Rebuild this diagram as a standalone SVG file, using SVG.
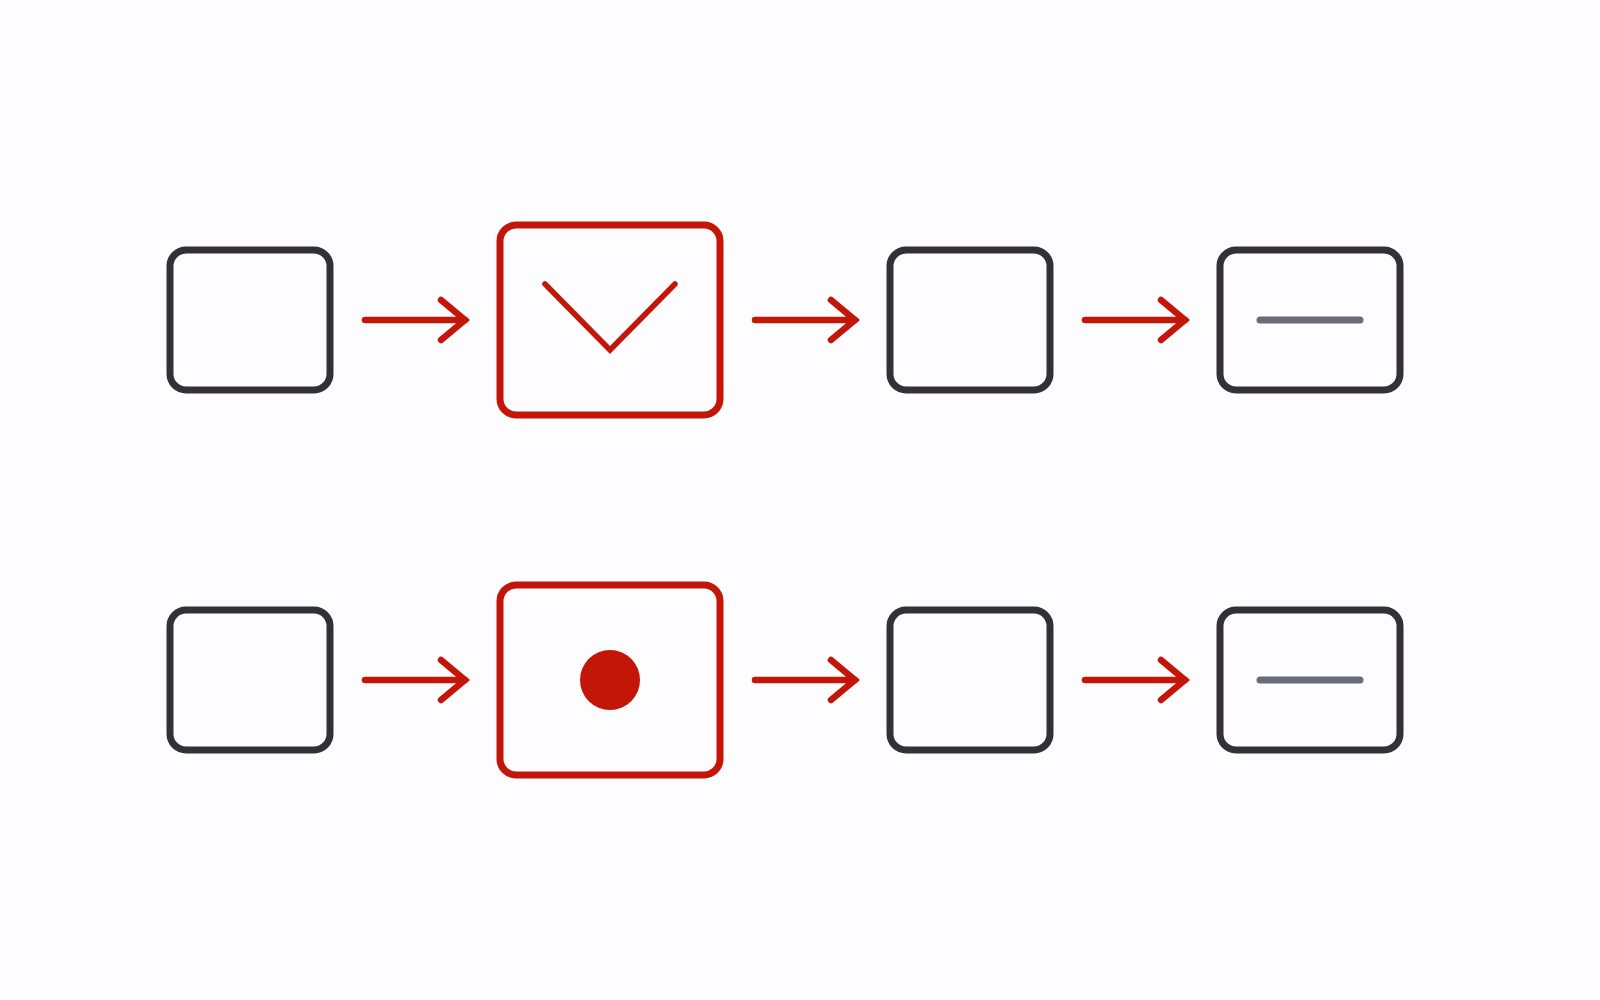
<svg xmlns="http://www.w3.org/2000/svg" width="1600" height="1000" viewBox="0 0 1600 1000">
  <defs>
    <style>
      .box { fill: none; stroke: #333036; stroke-width: 7; }
      .hot { fill: none; stroke: #c41608; stroke-width: 7; }
      .conn { fill: none; stroke: #c41608; stroke-width: 6.5; stroke-linecap: round; }
      .dash { fill: none; stroke: #6b6b75; stroke-width: 7; stroke-linecap: round; }
      .chev { fill: none; stroke: #c41608; stroke-width: 5.5; stroke-linecap: round; stroke-linejoin: miter; }
    </style>
    <marker id="arrow" markerUnits="userSpaceOnUse" markerWidth="40" markerHeight="50" refX="0" refY="0" orient="auto" overflow="visible">
      <path d="M-24,-20 L0,0 L-24,20" fill="none" stroke="#c41608" stroke-width="6.5" stroke-linecap="round" stroke-linejoin="miter"/>
    </marker>
  </defs>
  <rect x="0" y="0" width="1600" height="1000" fill="#fdfcfe"/>

  <g id="connectors">
    <line class="conn" x1="365" y1="320" x2="465" y2="320" marker-end="url(#arrow)"/>
    <line class="conn" x1="755" y1="320" x2="855" y2="320" marker-end="url(#arrow)"/>
    <line class="conn" x1="1085" y1="320" x2="1185" y2="320" marker-end="url(#arrow)"/>
    <line class="conn" x1="365" y1="680" x2="465" y2="680" marker-end="url(#arrow)"/>
    <line class="conn" x1="755" y1="680" x2="855" y2="680" marker-end="url(#arrow)"/>
    <line class="conn" x1="1085" y1="680" x2="1185" y2="680" marker-end="url(#arrow)"/>
  </g>

  <g id="r1-n1"><rect class="box" x="170" y="250" width="160" height="140" rx="16"/></g>
  <g id="r1-n2">
    <rect class="hot" x="500" y="225" width="220" height="190" rx="16"/>
    <polyline class="chev" points="545,284 610,350 675,284"/>
  </g>
  <g id="r1-n3"><rect class="box" x="890" y="250" width="160" height="140" rx="16"/></g>
  <g id="r1-n4">
    <rect class="box" x="1220" y="250" width="180" height="140" rx="16"/>
    <line class="dash" x1="1260" y1="320" x2="1360" y2="320"/>
  </g>

  <g id="r2-n1"><rect class="box" x="170" y="610" width="160" height="140" rx="16"/></g>
  <g id="r2-n2">
    <rect class="hot" x="500" y="585" width="220" height="190" rx="16"/>
    <circle cx="610" cy="680" r="30" fill="#c41608"/>
  </g>
  <g id="r2-n3"><rect class="box" x="890" y="610" width="160" height="140" rx="16"/></g>
  <g id="r2-n4">
    <rect class="box" x="1220" y="610" width="180" height="140" rx="16"/>
    <line class="dash" x1="1260" y1="680" x2="1360" y2="680"/>
  </g>
</svg>
